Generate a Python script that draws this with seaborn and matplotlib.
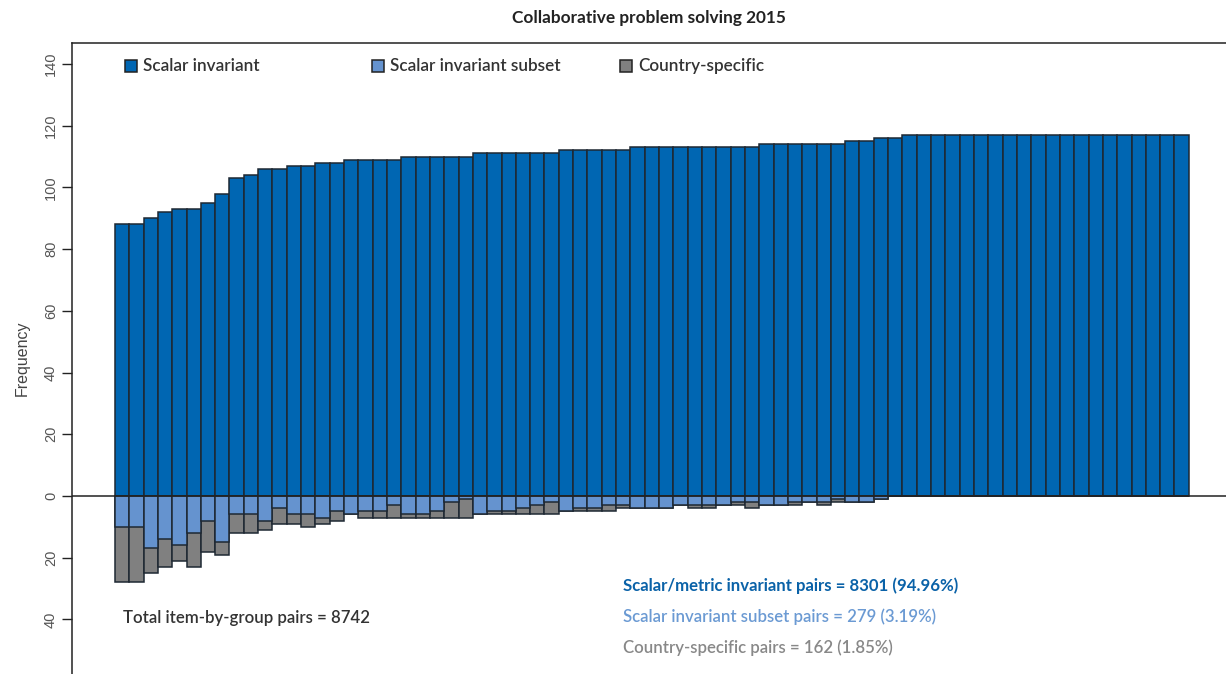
import pandas as pd
import matplotlib
matplotlib.use("Agg")
import matplotlib.pyplot as plt
import seaborn as sns
from matplotlib.patches import Rectangle

# item counts per group (groups sorted by number of scalar invariant items)
scalar_invariant = [88, 88, 90, 92, 93, 93, 95, 98, 103, 104, 106, 106, 107, 107, 108, 108,
                    109, 109, 109, 109, 110, 110, 110, 110, 110,
                    111, 111, 111, 111, 111, 111, 112, 112, 112, 112, 112,
                    113, 113, 113, 113, 113, 113, 113, 113, 113,
                    114, 114, 114, 114, 114, 114, 115, 115, 116, 116,
                    117, 117, 117, 117, 117, 117, 117, 117, 117, 117,
                    117, 117, 117, 117, 117, 117, 117, 117, 117, 117]
invariant_subset = [10, 10, 17, 14, 16, 12, 8, 15, 6, 6, 8, 4, 6, 6, 7, 5, 6, 5, 5, 3,
                    6, 6, 5, 2, 1, 6, 5, 5, 4, 3, 2, 5, 4, 4, 3, 3,
                    4, 4, 4, 3, 3, 3, 3, 2, 2, 3, 3, 2, 2, 2, 1, 2, 2, 1,
                    0, 0, 0, 0, 0, 0, 0, 0, 0, 0, 0, 0, 0, 0, 0, 0, 0, 0, 0, 0, 0]
country_specific = [18, 18, 8, 9, 5, 11, 10, 4, 6, 6, 3, 5, 3, 4, 2, 3, 0, 2, 2, 4,
                    1, 1, 2, 5, 6, 0, 1, 1, 2, 3, 4, 0, 1, 1, 2, 1,
                    0, 0, 0, 0, 1, 1, 0, 1, 2, 0, 0, 1, 0, 1, 1, 0, 0, 0,
                    0, 0, 0, 0, 0, 0, 0, 0, 0, 0, 0, 0, 0, 0, 0, 0, 0, 0, 0, 0, 0]
legend_labels = ["Scalar invariant", "Scalar invariant subset", "Country-specific"]
summary_lines = ["Scalar/metric invariant pairs = 8301 (94.96%)",
                 "Scalar invariant subset pairs = 279 (3.19%)",
                 "Country-specific pairs = 162 (1.85%)"]
total_text = "Total item-by-group pairs = 8742"
ytick_vals = [-40, -20, 0, 20, 40, 60, 80, 100, 120, 140]

df = pd.DataFrame({"group": range(len(scalar_invariant)),
                   "scalar": scalar_invariant,
                   "subset": invariant_subset,
                   "country": country_specific})
df["neg_subset"] = -df["subset"]
df["neg_total"] = -(df["subset"] + df["country"])

blue = "#0066b2"
lblue = "#6593cf"
grey = "#808080"
edge = "#1e2833"

sns.set_style("white")
plt.rcParams["font.family"] = ["Lato", "DejaVu Sans"]

W, H = 1226, 674
fig = plt.figure(figsize=(12.26, 6.74), dpi=100)
ax = fig.add_axes([72 / W, 0, 1 - 72 / W, (H - 43) / H])

bar_kw = dict(x="group", width=1.0, errorbar=None, saturation=1,
              edgecolor=edge, linewidth=1.1, ax=ax)
sns.barplot(data=df, y="scalar", color=blue, **bar_kw)
sns.barplot(data=df, y="neg_total", color=grey, **bar_kw)
sns.barplot(data=df, y="neg_subset", color=lblue, **bar_kw)

ax.axhline(0, color="#222222", lw=1.1, zorder=5)

ax.set_xlim(-3.5, 77.1)
ax.set_ylim(-57.7, 146.8)
ax.set_xticks([])
ax.set_xlabel("")
ax.set_yticks(ytick_vals)
ax.set_yticklabels([str(abs(v)) for v in ytick_vals], family="Liberation Sans")
ax.tick_params(axis="y", left=True, length=7, width=1, color="#222222",
               labelcolor="#555555", labelsize=10.5, pad=3)
for t in ax.get_yticklabels():
    t.set_rotation(90)
    t.set_va("center")
ax.set_ylabel("Frequency", family="Liberation Sans", fontsize=11.5, color="#444444", labelpad=10)

for s in ["right", "bottom"]:
    ax.spines[s].set_visible(False)
for s in ["left", "top"]:
    ax.spines[s].set_color("#222222")
    ax.spines[s].set_linewidth(1.1)

fig.text(649 / W, 1 - 18 / H, "Collaborative problem solving 2015", ha="center", va="center",
         fontsize=12.4, fontweight="bold", color="#222222")

# legend
for lab, col, px in zip(legend_labels, [blue, lblue, grey], [125, 372, 620]):
    fig.add_artist(Rectangle((px / W, 1 - 72 / H), 12 / W, 12 / H, transform=fig.transFigure,
                             facecolor=col, edgecolor="#222222", lw=1.1))
    fig.text((px + 18) / W, 1 - 66 / H, lab, ha="left", va="center",
             fontsize=12.3, fontweight="semibold", color="#333333")

fig.text(123 / W, 1 - 618 / H, total_text, ha="left", va="center",
         fontsize=12.1, fontweight="semibold", color="#333333")
for line, col, py, fw in zip(summary_lines, ["#0a62a8", "#6b9ad3", "#888888"],
                             [586, 617, 648], ["bold", "semibold", "semibold"]):
    fig.text(623 / W, 1 - py / H, line, ha="left", va="center",
             fontsize=12.1, fontweight=fw, color=col)

fig.savefig("out.png", dpi=100)
